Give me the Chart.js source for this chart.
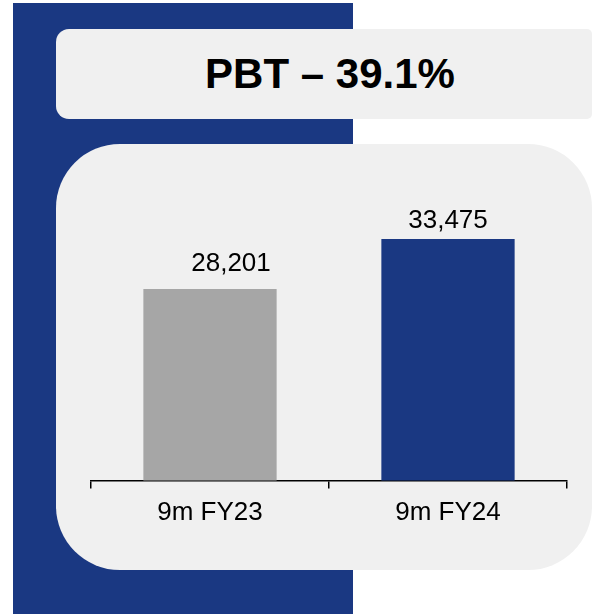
<!DOCTYPE html>
<html>
<head>
<meta charset="utf-8">
<title>PBT</title>
<script src="https://cdn.jsdelivr.net/npm/chart.js@4/dist/chart.umd.min.js"></script>
<style>
  html, body { margin: 0; padding: 0; background: #ffffff; }
  body { width: 592px; height: 614px; position: relative; overflow: hidden; font-family: "Liberation Sans", Arial, sans-serif; }
  #blueBlock { position: absolute; left: 13px; top: 3px; width: 340px; height: 611px; background: #1a3882; }
  #titleBox { position: absolute; left: 56px; top: 29px; width: 536px; height: 90px; background: #f0f0f0;
              border-radius: 13px 5px 5px 13px; }
  #titleBox div { position: absolute; left: 0; right: 0; top: 0; bottom: 0; text-align: center; line-height: 90px;
                  font-weight: bold; font-size: 42px; color: #000; padding-left: 12px; }
  #panel { position: absolute; left: 56px; top: 144px; width: 536px; height: 426px; background: #f0f0f0; border-radius: 64px; }
  #wrap { position: absolute; left: 0; top: 0; width: 592px; height: 614px; }
</style>
</head>
<body>
<div id="blueBlock"></div>
<div id="titleBox"><div>PBT – 39.1%</div></div>
<div id="panel"></div>
<div id="wrap"><canvas id="pbtChart"></canvas></div>
<script>
// data
const periods = ['9m FY23', '9m FY24'];
const pbtValues = [28201, 33475];
const barColors = ['#a6a6a6', '#1a3882'];

// value labels above the bars
const valueLabels = {
    id: 'valueLabels',
    afterDatasetsDraw(chart, args, opts) {
        const ctx = chart.ctx;
        const meta = chart.getDatasetMeta(0);
        ctx.save();
        ctx.font = opts.font;
        ctx.fillStyle = '#000';
        ctx.textAlign = 'center';
        ctx.textBaseline = 'alphabetic';
        meta.data.forEach((bar, i) => {
            const txt = pbtValues[i].toLocaleString('en-US');
            ctx.fillText(txt, bar.x + opts.shiftX[i], bar.y - opts.gap[i]);
        });
        ctx.restore();
    }
};

new Chart(document.getElementById('pbtChart'), {
    type: 'bar',
    data: {
        labels: periods,
        datasets: [{
            data: pbtValues,
            backgroundColor: barColors,
            borderWidth: 0,
            barPercentage: 0.56,
            categoryPercentage: 1.0
        }]
    },
    options: {
        responsive: true,
        maintainAspectRatio: false,
        animation: false,
        events: [],
        layout: { padding: { left: 91, right: 25, top: 177, bottom: 73.5 } },
        plugins: {
            legend: { display: false },
            tooltip: { enabled: false },
            valueLabels: { font: '26px "Liberation Sans", Arial, sans-serif', shiftX: [21, 0], gap: [18, 11] }
        },
        scales: {
            y: { display: false, min: 8000, max: 40000 },
            x: {
                afterFit(scale) { scale.height = 60; },
                border: { display: true, color: '#000', width: 1.5 },
                grid: { display: true, drawOnChartArea: false, drawTicks: true, tickLength: 8, color: '#000', lineWidth: 1.5, offset: true },
                ticks: { color: '#000', padding: 9, font: { family: '"Liberation Sans", Arial, sans-serif', size: 26 } }
            }
        }
    },
    plugins: [valueLabels]
});
</script>
</body>
</html>
